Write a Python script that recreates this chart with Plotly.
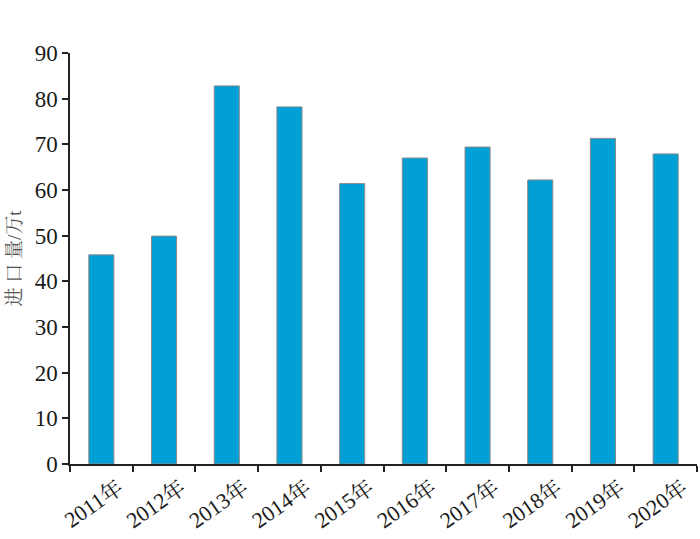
import plotly.graph_objects as go

years = ["2011年", "2012年", "2013年", "2014年", "2015年", "2016年", "2017年", "2018年", "2019年", "2020年"]
imports = [45.8, 49.9, 82.8, 78.2, 61.4, 67.0, 69.4, 62.2, 71.3, 67.9]
y_ticks = [0, 10, 20, 30, 40, 50, 60, 70, 80, 90]

font_family = "Liberation Serif, Times New Roman, Noto Serif CJK SC, Noto Sans CJK SC, serif"

fig = go.Figure(
    go.Bar(
        x=years,
        y=imports,
        width=0.4,
        marker=dict(color="#009fd6", line=dict(color="#8a8a8a", width=1)),
    )
)

fig.update_layout(
    width=700,
    height=539,
    margin=dict(l=70, r=3, t=53, b=75),
    plot_bgcolor="white",
    paper_bgcolor="white",
    showlegend=False,
    font=dict(family=font_family, size=22, color="#1a1a1a"),
)

fig.update_xaxes(
    type="category",
    tickson="boundaries",
    ticks="outside",
    ticklen=6,
    tickwidth=1.5,
    tickcolor="#222222",
    showline=True,
    linecolor="#222222",
    linewidth=1.5,
    tickangle=-35,
    tickfont=dict(size=22),
    ticklabelshift=17,
    ticklabelstandoff=1,
    showgrid=False,
    automargin=False,
    range=[-0.5, 9.5],
)

fig.update_yaxes(
    range=[0, 90],
    tickvals=y_ticks,
    ticks="outside",
    ticklen=6,
    tickwidth=1.5,
    tickcolor="#222222",
    showline=True,
    linecolor="#222222",
    linewidth=1.5,
    showgrid=False,
    zeroline=False,
    automargin=False,
    tickfont=dict(size=23),
    title=dict(text="进 口 量/万t", font=dict(size=19, color="#555555"), standoff=8),
)

fig.write_html(
    "out.html",
    config={"responsive": False, "displayModeBar": False},
    post_script="document.body.style.margin='0';document.body.style.overflow='hidden';",
)
